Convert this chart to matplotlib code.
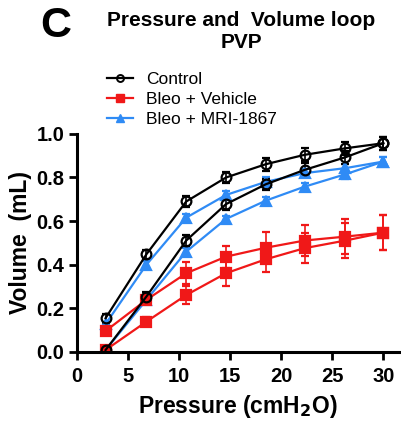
import numpy as np
import matplotlib.pyplot as plt
from matplotlib.lines import Line2D

plt.rcParams['font.family'] = ['Liberation Sans', 'DejaVu Sans']

# pressure steps (cmH2O), inflation then deflation limbs
pressure = np.array([2.8, 6.8, 10.7, 14.6, 18.5, 22.3, 26.3, 30.0])

ctrl_up = np.array([0.155, 0.448, 0.69, 0.80, 0.861, 0.904, 0.934, 0.957])
ctrl_lo = np.array([0.009, 0.254, 0.511, 0.678, 0.769, 0.835, 0.893, 0.957])
ctrl_err_up = np.array([0.02, 0.02, 0.025, 0.025, 0.03, 0.03, 0.03, 0.03])
ctrl_err_lo = np.array([0.01, 0.02, 0.025, 0.025, 0.025, 0.03, 0.03, 0.03])

veh_up = np.array([0.096, 0.239, 0.361, 0.437, 0.478, 0.511, 0.529, 0.547])
veh_lo = np.array([0.009, 0.139, 0.261, 0.361, 0.425, 0.476, 0.511, 0.547])
veh_err_up = np.array([0.015, 0.02, 0.05, 0.05, 0.07, 0.07, 0.08, 0.08])
veh_err_lo = np.array([0.01, 0.02, 0.04, 0.06, 0.06, 0.07, 0.08, 0.08])

mri_up = np.array([0.128, 0.40, 0.616, 0.72, 0.78, 0.82, 0.843, 0.873])
mri_lo = np.array([0.009, 0.239, 0.46, 0.61, 0.694, 0.758, 0.815, 0.873])
mri_err_up = np.array([0.01, 0.015, 0.015, 0.02, 0.02, 0.02, 0.02, 0.02])
mri_err_lo = np.array([0.01, 0.015, 0.015, 0.015, 0.015, 0.015, 0.02, 0.02])

fig = plt.figure(figsize=(4.02, 4.21), dpi=100)
ax = fig.add_axes([0.1915, 0.164, 0.80, 0.518])

blue = '#2f8bf5'
red = '#f01818'

def loop(up, lo, eu, el, color, marker, ms, mfc):
    kw = dict(color=color, marker=marker, ms=ms, mfc=mfc, mec=color, mew=1.6,
              lw=1.6, capsize=3, elinewidth=1.2, capthick=1.2, ecolor=color)
    ax.errorbar(pressure, up, yerr=eu, **kw)
    ax.errorbar(pressure, lo, yerr=el, **kw)

loop(mri_up, mri_lo, mri_err_up, mri_err_lo, blue, '^', 7, blue)
loop(veh_up, veh_lo, veh_err_up, veh_err_lo, red, 's', 7, red)
loop(ctrl_up, ctrl_lo, ctrl_err_up, ctrl_err_lo, 'black', 'o', 7, 'none')

ax.set_xlim(0, 31.5)
ax.set_ylim(0, 1.0)
ax.set_xticks([0, 5, 10, 15, 20, 25, 30])
ax.set_yticks([0.0, 0.2, 0.4, 0.6, 0.8, 1.0])
ax.set_yticklabels(['0.0', '0.2', '0.4', '0.6', '0.8', '1.0'])
for s in ['top', 'right']:
    ax.spines[s].set_visible(False)
for s in ['left', 'bottom']:
    ax.spines[s].set_linewidth(2.2)
ax.tick_params(width=2, length=6, labelsize=14.5, direction='out', pad=3)
ax.tick_params(axis='x', pad=5)
for t in ax.get_xticklabels() + ax.get_yticklabels():
    t.set_fontweight('bold')

ax.set_xlabel('Pressure (cmH$_\\mathbf{2}$O)', fontsize=16.5, fontweight='bold', labelpad=5)
ax.set_ylabel('Volume  (mL)', fontsize=16.5, fontweight='bold', labelpad=3)

handles = [
    Line2D([], [], color='black', marker='o', ms=5, mfc='none', mew=1.4, lw=1.6),
    Line2D([], [], color=red, marker='s', ms=6, mfc=red, lw=1.6),
    Line2D([], [], color=blue, marker='^', ms=6, mfc=blue, lw=1.6),
]
labels = ['Control', 'Bleo + Vehicle', 'Bleo + MRI-1867']
fig.legend(handles, labels, loc='upper left', bbox_to_anchor=(0.265, 0.83),
           frameon=False, fontsize=12.5, handlelength=1.5, handletextpad=0.8,
           labelspacing=0.3, borderpad=0.0, borderaxespad=0.0)

fig.text(0.6, 0.925, 'Pressure and  Volume loop\nPVP', ha='center', va='center',
         fontsize=15, fontweight='bold', linespacing=1.15)
fig.text(0.139, 0.938, 'C', ha='center', va='center', fontsize=31, fontweight='bold')

fig.savefig('out.png', dpi=100)
